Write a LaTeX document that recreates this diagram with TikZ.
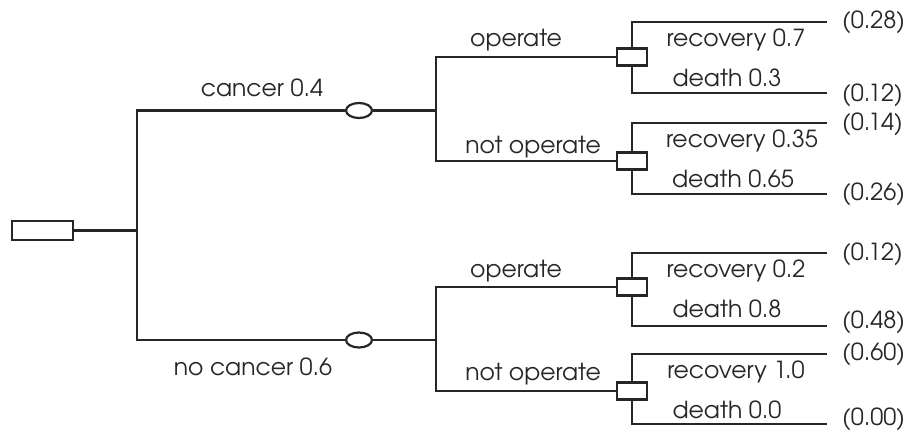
\documentclass[tikz,border=0pt]{standalone}
\usepackage{fontspec}
\setmainfont{TeX Gyre Adventor}
\usetikzlibrary{shapes.geometric}
\definecolor{ink}{HTML}{262626}
\tikzset{
  branch/.style={draw=ink, line width=2.2pt},
  rootbox/.style={draw=ink, line width=2.2pt, rectangle, minimum width=61pt, minimum height=19pt, inner sep=0pt},
  chance/.style={draw=ink, line width=2.2pt, ellipse, minimum width=26pt, minimum height=15pt, inner sep=0pt, fill=white},
  choice/.style={draw=ink, line width=2.2pt, rectangle, minimum width=30pt, minimum height=17pt, inner sep=0pt, fill=white},
  lbl/.style={text=ink, font=\fontsize{23.5}{28}\selectfont, anchor=base, inner sep=0pt},
  leaf/.style={text=ink, font=\fontsize{23.5}{28}\selectfont, anchor=base west, inner sep=0pt},
}
\begin{document}
\begin{tikzpicture}[x=1pt, y=-1pt]
\useasboundingbox (0,0) rectangle (909,433);
% root and first split
\node[rootbox] (root) at (42.5,230.5) {};
\coordinate (j0) at (137,230.5);
\node[chance] (c1) at (359,110.5) {};
\node[chance] (c2) at (359,340) {};
% second split
\coordinate (j1) at (436,110.5);
\coordinate (j2) at (436,340);
\node[choice] (d1) at (632,57) {};
\node[choice] (d2) at (632,161) {};
\node[choice] (d3) at (632,287) {};
\node[choice] (d4) at (632,391) {};
% leaf ends
\coordinate (e1) at (827,22);
\coordinate (e2) at (827,93);
\coordinate (e3) at (827,123);
\coordinate (e4) at (827,194);
\coordinate (e5) at (827,253);
\coordinate (e6) at (827,326);
\coordinate (e7) at (827,354);
\coordinate (e8) at (827,424);
% connectors
\draw[branch] (root.east) -- (j0);
\draw[branch] (c1.west) -| (j0) |- (c2.west);
\draw[branch] (c1.east) -- (j1);
\draw[branch] (c2.east) -- (j2);
\draw[branch] (d1.west) -| (j1) |- (d2.west);
\draw[branch] (d3.west) -| (j2) |- (d4.west);
\foreach \d/\a/\b in {d1/e1/e2, d2/e3/e4, d3/e5/e6, d4/e7/e8} {
  \draw[branch] (\a) -| (\d.north);
  \draw[branch] (\d.south) |- (\b);
}
% branch labels
\node[lbl] (tc) at (262,97) {cancer 0.4};
\node[lbl] (tn) at (253,375) {no cancer 0.6};
\node[lbl] (o1) at (516,47) {operate};
\node[lbl] (n1) at (533,153) {not operate};
\node[lbl] (o2) at (516,277) {operate};
\node[lbl] (n2) at (533,380) {not operate};
\node[lbl] (r1) at (736,47) {recovery 0.7};
\node[lbl] (x1) at (727,87) {death 0.3};
\node[lbl] (r2) at (742,147) {recovery 0.35};
\node[lbl] (x2) at (733,187) {death 0.65};
\node[lbl] (r3) at (736,277) {recovery 0.2};
\node[lbl] (x3) at (727,317) {death 0.8};
\node[lbl] (r4) at (736,378) {recovery 1.0};
\node[lbl] (x4) at (727,418) {death 0.0};
% outcome values
\node[leaf] (v1) at (842,29) {(0.28)};
\node[leaf] (v2) at (842,102) {(0.12)};
\node[leaf] (v3) at (842,130) {(0.14)};
\node[leaf] (v4) at (842,200) {(0.26)};
\node[leaf] (v5) at (842,260) {(0.12)};
\node[leaf] (v6) at (842,328) {(0.48)};
\node[leaf] (v7) at (842,360) {(0.60)};
\node[leaf] (v8) at (842,425) {(0.00)};
\end{tikzpicture}
\end{document}
